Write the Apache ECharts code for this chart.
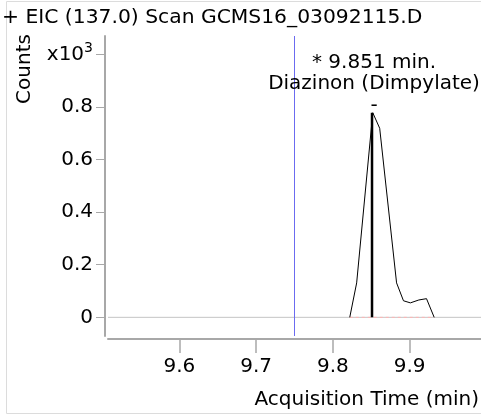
<!DOCTYPE html>
<html><head><meta charset="utf-8">
<script src="https://cdn.jsdelivr.net/npm/echarts@6/dist/echarts.min.js"></script>
<style>html,body{margin:0;padding:0;background:#fff}#c{width:481px;height:415px}</style>
</head><body><div id="c"></div>
<script>
// Chromatogram trace (time in min, counts in x10^3)
const times  = [9.822, 9.831, 9.852, 9.861, 9.883, 9.892, 9.901, 9.912, 9.922, 9.932];
const counts = [0,     0.131, 0.778, 0.719, 0.131, 0.063, 0.055, 0.066, 0.071, 0];
const peakTime = 9.851;
const peakHeight = 0.778;
const markerTime = 9.75;
const integStart = 9.822, integEnd = 9.932;
const xTicks = [9.6, 9.7, 9.8, 9.9];
const yTicks = [0, 0.2, 0.4, 0.6, 0.8, 1.0];
const yTickLabels = ['0', '0.2', '0.4', '0.6', '0.8', 'x10^3'];
const titleText = '+ EIC (137.0) Scan GCMS16_03092115.D';
const peakLabel = ['* 9.851 min.', 'Diazinon (Dimpylate)', '-'];
const xName = 'Acquisition Time (min)';
const yName = 'Counts';

const FONT = 'DejaVu Sans';
const FS = 20;
const chart = echarts.init(document.getElementById('c'), null, {renderer: 'canvas'});
const trace = times.map((t, i) => [t, counts[i]]);
chart.setOption({
  animation: false,
  textStyle: {fontFamily: FONT},
  title: {text: titleText, left: 2, top: 8, padding: 0,
    textStyle: {fontFamily: FONT, fontSize: 20.3, fontWeight: 'normal', color: '#000'}},
  grid: {left: 108, top: 36, right: 0, height: 300, containLabel: false},
  xAxis: {
    type: 'value', min: 9.507, max: 9.993, offset: 3,
    axisLine: {show: true, onZero: false, lineStyle: {color: '#a8a8a8', width: 2}},
    axisTick: {show: true, length: 14, customValues: xTicks, lineStyle: {color: '#a8a8a8', width: 1.5}},
    axisLabel: {customValues: xTicks, margin: 18, fontFamily: FONT, fontSize: FS, color: '#000',
      formatter: v => v.toFixed(1)},
    splitLine: {show: false}
  },
  yAxis: {
    type: 'value', min: -0.071, max: 1.07, offset: 3,
    axisLine: {show: true, onZero: false, lineStyle: {color: '#a8a8a8', width: 2}},
    axisTick: {show: true, length: 9, customValues: yTicks, lineStyle: {color: '#a8a8a8', width: 1}},
    axisLabel: {customValues: yTicks, margin: 12, fontFamily: FONT, fontSize: FS, color: '#000',
      formatter: v => {
        const i = yTicks.findIndex(t => Math.abs(t - v) < 1e-6);
        const s = i >= 0 ? yTickLabels[i] : String(v);
        if (s.indexOf('^') >= 0) { const p = s.split('^'); return '{a|' + p[0] + '}{s|' + p[1] + '}'; }
        return s;
      },
      rich: {a: {fontFamily: FONT, fontSize: FS, color: '#000'},
             s: {fontFamily: FONT, fontSize: 14, color: '#000', padding: [0, 0, 12, 0]}}},
    splitLine: {show: false}
  },
  series: [
    {type: 'line', data: [[9.507, 0], [9.993, 0]], symbol: 'none', silent: true,
     lineStyle: {color: '#c4c4c4', width: 1}, z: 1,
     markLine: {silent: true, symbol: 'none', label: {show: false},
       lineStyle: {color: '#6b6bf0', width: 1, type: 'solid'}, data: [{xAxis: markerTime}]}},
    {type: 'line', data: [[integStart, 0], [integEnd, 0]], symbol: 'none',
     lineStyle: {color: '#ffb4b4', width: 1, type: [3, 3]}, z: 2},
    {type: 'line', data: trace, symbol: 'none', lineStyle: {color: '#000', width: 1}, z: 3},
    {type: 'line', data: [[peakTime, 0], [peakTime, peakHeight]], symbol: 'none',
     lineStyle: {color: '#000', width: 2.5}, z: 4,
     markPoint: {silent: true, symbol: 'circle', symbolSize: 0,
       itemStyle: {color: '#000', opacity: 1},
       label: {show: true, position: 'top', distance: 1, offset: [2, 4.5],
         formatter: peakLabel.join('\n'), fontFamily: FONT, fontSize: FS, lineHeight: 21.5,
         color: '#000', opacity: 1, align: 'center'},
       data: [{coord: [peakTime, peakHeight]}]}}
  ],
  graphic: [
    {type: 'rect', shape: {x: 6.5, y: 1.5, width: 500, height: 412}, silent: true,
     style: {fill: 'none', stroke: '#dcdcdc', lineWidth: 1}, z: -10},
    {type: 'text', x: 25, y: 69, rotation: Math.PI / 2, silent: true,
     style: {text: yName, font: FS + 'px "' + FONT + '"', fill: '#000', align: 'center', verticalAlign: 'middle'}},
    {type: 'text', x: 479, y: 400, silent: true,
     style: {text: xName, font: FS + 'px "' + FONT + '"', fill: '#000', align: 'right', verticalAlign: 'middle'}}
  ]
});
</script></body></html>
